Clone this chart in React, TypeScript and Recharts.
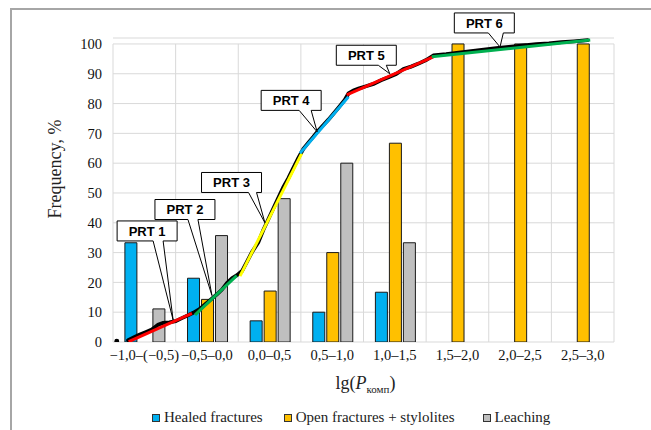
import React from "react";
import {
  ComposedChart,
  Bar,
  Line,
  XAxis,
  YAxis,
  CartesianGrid,
  ReferenceLine,
  ReferenceDot,
  Legend,
} from "recharts";

// intervals of lg(P komp)
const categories = [
  "−1,0–(−0,5)",
  "−0,5–0,0",
  "0,0–0,5",
  "0,5–1,0",
  "1,0–1,5",
  "1,5–2,0",
  "2,0–2,5",
  "2,5–3,0",
];
const healed = [33.3, 21.4, 7.1, 10.0, 16.7, null, null, null];
const openFractures = [null, 14.3, 17.1, 30.0, 66.7, 100, 100, 100];
const leaching = [11.1, 35.7, 48.1, 60.0, 33.3, null, null, null];

const seriesNames = ["Healed fractures", "Open fractures + stylolites", "Leaching"];
const seriesColors = ["#00B0F0", "#FFC000", "#BFBFBF"];

const yTicks = [0, 10, 20, 30, 40, 50, 60, 70, 80, 90, 100];
const binEdges = [-1, -0.5, 0, 0.5, 1, 1.5, 2, 2.5, 3];

// cumulative curve: lg P and frequency, %
const cumLgP = [
  -0.97, -0.93, -0.88, -0.84, -0.79, -0.74, -0.69, -0.64, -0.6, -0.55, -0.5,
  -0.45, -0.4, -0.36, -0.31, -0.27, -0.22, -0.17, -0.13, -0.09, -0.05, -0.01,
  0.03, 0.07, 0.11, 0.16, 0.2, 0.24, 0.28, 0.32, 0.36, 0.4, 0.44, 0.48, 0.52,
  0.56, 0.6, 0.64, 0.68, 0.72, 0.76, 0.8, 0.85, 0.88, 0.92, 0.96, 1.02, 1.08,
  1.14, 1.2, 1.26, 1.32, 1.38, 1.44, 1.5, 1.56, 1.66, 1.76, 1.86, 1.96, 2.06,
  2.16, 2.28, 2.38, 2.48, 2.58, 2.68, 2.79,
];
const cumFreq = [
  0.3, null, 0.6, 1.4, 2.4, 3.3, 4.2, 5.8, 6.4, 6.6, 7.0, 8.0, 9.0, 9.8, 11.0,
  12.4, 14.2, 16.0, 17.6, 19.8, 21.4, 22.4, 23.8, 27.0, 30.2, 33.4, 37.6, 41.2,
  44.8, 48.4, 52.0, 55.0, 58.4, 61.8, 64.8, 66.9, 68.9, 71.0, 72.8, 74.6, 76.6,
  78.6, 81.2, 83.4, 84.4, 85.0, 85.8, 86.6, 87.8, 88.8, 89.9, 91.6, 92.4, 93.4,
  94.6, 96.2, 96.6, 97.1, 97.6, 98.1, 98.6, 99.0, 99.5, 99.9, 100.2, 100.6,
  100.9, 101.3,
];

// fitted parts (start / end in lg P and %)
const prtNames = ["PRT 1", "PRT 2", "PRT 3", "PRT 4", "PRT 5", "PRT 6"];
const prtColors = ["#FF0000", "#00B050", "#FFFF00", "#00B0F0", "#FF0000", "#00B050"];
const prtX = [
  [-0.875, -0.37],
  [-0.345, -0.012],
  [0.014, 0.507],
  [0.493, 0.88],
  [0.866, 1.557],
  [1.545, 2.81],
];
const prtY = [
  [0.1, 9.6],
  [9.1, 22.3],
  [22.1, 63.3],
  [63.3, 82.3],
  [82.9, 95.7],
  [95.7, 101.3],
];
// points the callouts point at
const tipX = [-0.52, -0.21, 0.213, 0.63, 1.21, 2.09];
const tipY = [7.4, 15.6, 40.0, 70.5, 90.0, 99.0];
// callout box offset from the tip (px) and wedge base
const boxDx = [-26, -27, -33.4, -26, -23.5, -15.7];
const boxDy = [-89, -86, -40.3, -31.5, -18.5, -24];
const wedgeA = [6, 3, 17, 8, 12, 4];
const wedgeB = [16, 13, 25, 20, 20, 19];

const barData = categories.map((c, i) => ({
  cat: c,
  healed: healed[i],
  open: openFractures[i],
  leaching: leaching[i],
}));
const cumData = cumLgP.map((x, i) => ({ x, y: cumFreq[i] }));
const prtData = prtX.map((xs, i) => xs.map((x, j) => ({ x, y: prtY[i][j] })));

const serif = "'Liberation Serif', 'Times New Roman', serif";
const grid = "#d9d9d9";

// only a point standing alone (no neighbours) gets a visible marker
function CumDot(props: any) {
  const { cx, cy, index } = props;
  const alone = cumFreq[index - 1] == null && cumFreq[index + 1] == null;
  if (!alone || cx == null || cy == null) return <g key={index} />;
  return <circle key={index} cx={cx} cy={cy} r={2.4} fill="#000" />;
}

function Callout(props: any) {
  const { cx, cy, text, dx, dy, a, b } = props;
  const w = 60;
  const h = 20;
  const mx = cx + dx;
  const my = cy + dy;
  const left = mx - w / 2;
  const top = my - h / 2;
  const bottom = top + h;
  const d = `M${left},${top} H${left + w} V${bottom} H${mx + b} L${cx},${cy} L${mx + a},${bottom} H${left} Z`;
  return (
    <g>
      <path d={d} fill="#fff" stroke="#000" strokeWidth={1} />
      <text
        x={mx}
        y={my + 4.7}
        textAnchor="middle"
        fontFamily="'Liberation Sans', Arial, sans-serif"
        fontWeight="bold"
        fontSize={13}
        fill="#000"
      >
        {text}
      </text>
    </g>
  );
}

function YTitle(props: any) {
  const { viewBox } = props;
  const x = viewBox.x + 10;
  const y = viewBox.y + viewBox.height / 2 - 21;
  return (
    <text
      x={x}
      y={y}
      transform={`rotate(-90 ${x} ${y})`}
      textAnchor="middle"
      dominantBaseline="central"
      fontFamily={serif}
      fontSize={18}
      fill="#222"
    >
      Frequency, %
    </text>
  );
}

function XTitle(props: any) {
  const { viewBox } = props;
  const x = viewBox.x + viewBox.width / 2 + 2;
  const y = viewBox.y + 47;
  return (
    <text x={x} y={y} textAnchor="middle" fontFamily={serif} fontSize={18} fill="#222">
      lg(<tspan fontStyle="italic">P</tspan>
      <tspan fontSize={11} dy={4}>
        комп
      </tspan>
      <tspan dy={-4}>)</tspan>
    </text>
  );
}

function LegendContent() {
  return (
    <div style={{ display: "flex", alignItems: "center", fontFamily: serif, fontSize: 15, color: "#222", whiteSpace: "nowrap" }}>
      {seriesNames.map((name, i) => (
        <div key={name} style={{ display: "flex", alignItems: "center", marginRight: i === 0 ? 21 : 28 }}>
          <span
            style={{
              width: 6,
              height: 6,
              background: seriesColors[i],
              border: "1px solid #333",
              marginRight: 4,
              display: "inline-block",
            }}
          />
          {name}
        </div>
      ))}
    </div>
  );
}

export default function App() {
  return (
    <div style={{ position: "absolute", left: 0, top: 0, width: 651, height: 430, background: "#fff" }}>
      <div
        style={{
          position: "absolute",
          left: 10,
          top: 8,
          width: 641,
          height: 422,
          borderTop: "2px solid #a6a6a6",
          borderLeft: "2px solid #a6a6a6",
          boxSizing: "border-box",
        }}
      />
      <ComposedChart
        width={651}
        height={430}
        data={barData}
        margin={{ top: 38, right: 37, bottom: 58, left: 45 }}
        barCategoryGap="19%"
        barGap={2}
        style={{ position: "absolute", left: 0, top: 0 }}
      >
        <CartesianGrid xAxisId="cat" vertical={false} stroke={grid} />
        <XAxis
          xAxisId="cat"
          dataKey="cat"
          interval={0}
          axisLine={false}
          tickLine={false}
          tick={{ fontFamily: serif, fontSize: 14.5, fill: "#111" }}
          label={{ content: XTitle }}
        />
        <XAxis xAxisId="num" type="number" dataKey="x" domain={[-1, 3]} allowDataOverflow hide />
        <YAxis
          domain={[0, 102]}
          allowDataOverflow
          ticks={yTicks}
          width={68}
          axisLine={false}
          tickLine={false}
          tickMargin={5}
          tick={{ fontFamily: serif, fontSize: 14.5, fill: "#111" }}
          label={{ content: YTitle }}
        />
        {binEdges.map((e) => (
          <ReferenceLine
            key={e}
            xAxisId="num"
            segment={[
              { x: e, y: 0 },
              { x: e, y: 100 },
            ]}
            stroke={grid}
          />
        ))}
        <Bar xAxisId="cat" dataKey="healed" name={seriesNames[0]} fill={seriesColors[0]} stroke="#1a1a1a" strokeWidth={1} isAnimationActive={false} />
        <Bar xAxisId="cat" dataKey="open" name={seriesNames[1]} fill={seriesColors[1]} stroke="#1a1a1a" strokeWidth={1} isAnimationActive={false} />
        <Bar xAxisId="cat" dataKey="leaching" name={seriesNames[2]} fill={seriesColors[2]} stroke="#1a1a1a" strokeWidth={1} isAnimationActive={false} />
        <Line
          xAxisId="num"
          data={cumData}
          dataKey="y"
          type="linear"
          stroke="#000"
          strokeWidth={3.8}
          strokeLinecap="round"
          dot={CumDot}
          legendType="none"
          isAnimationActive={false}
        />
        {prtData.map((d, i) => (
          <Line
            key={prtNames[i]}
            xAxisId="num"
            data={d}
            dataKey="y"
            type="linear"
            stroke={prtColors[i]}
            strokeWidth={3}
            dot={false}
            legendType="none"
            isAnimationActive={false}
          />
        ))}
        {prtNames.map((n, i) => (
          <ReferenceDot
            key={n}
            xAxisId="num"
            x={tipX[i]}
            y={tipY[i]}
            r={0}
            shape={(p: any) => (
              <Callout cx={p.cx} cy={p.cy} text={n} dx={boxDx[i]} dy={boxDy[i]} a={wedgeA[i]} b={wedgeB[i]} />
            )}
          />
        ))}
        <Legend
          layout="vertical"
          align="center"
          verticalAlign="middle"
          content={LegendContent}
          wrapperStyle={{ left: 152, top: 409, width: "auto" }}
        />
      </ComposedChart>
    </div>
  );
}
